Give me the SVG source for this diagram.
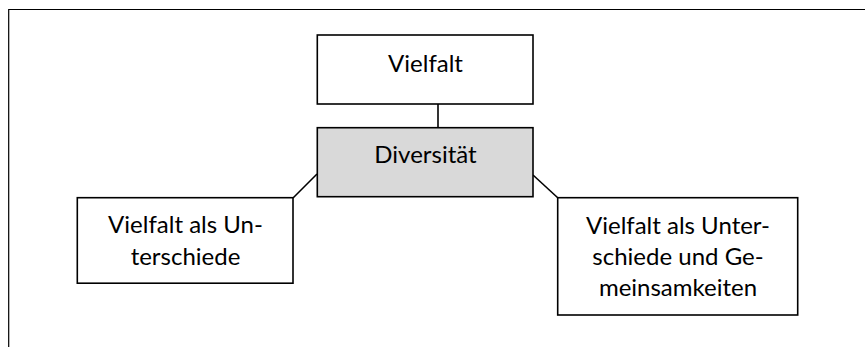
<svg xmlns="http://www.w3.org/2000/svg" width="865" height="347" viewBox="0 0 865 347">
  <style>
    .box { fill: #ffffff; stroke: #000000; stroke-width: 1.6; }
    .core { fill: #d9d9d9; }
    .frame { fill: none; stroke: #000000; stroke-width: 1.2; }
    .link { fill: none; stroke: #000000; stroke-width: 1.6; }
    text { font-family: Lato, "Open Sans", "Liberation Sans", sans-serif; font-size: 24px; fill: #000000; text-anchor: middle; }
  </style>
  <rect x="0" y="0" width="865" height="347" fill="#ffffff"/>
  <!-- outer frame (top and left edges) -->
  <path class="frame" d="M8.7,347 V9.5 H865"/>

  <g id="connectors">
    <line class="link" x1="438" y1="98" x2="438" y2="128"/>
    <line class="link" x1="317" y1="174" x2="293" y2="198"/>
    <line class="link" x1="533" y1="175" x2="558" y2="198"/>
  </g>

  <g id="vielfalt">
    <rect class="box" x="317.3" y="35" width="215.7" height="69"/>
    <text x="425.5" y="72">Vielfalt</text>
  </g>

  <g id="diversitaet">
    <rect class="box core" x="317.3" y="127.7" width="215.7" height="69"/>
    <text x="425.5" y="163">Diversität</text>
  </g>

  <g id="unterschiede">
    <rect class="box" x="77.3" y="197.7" width="215.7" height="85.5"/>
    <text x="185.5" y="233">Vielfalt als Un-</text>
    <text x="185.5" y="265">terschiede</text>
  </g>

  <g id="unterschiede-gemeinsamkeiten">
    <rect class="box" x="557.7" y="197.7" width="240" height="117.3"/>
    <text x="678" y="234">Vielfalt als Unter-</text>
    <text x="678" y="265">schiede und Ge-</text>
    <text x="678" y="296">meinsamkeiten</text>
  </g>
</svg>
